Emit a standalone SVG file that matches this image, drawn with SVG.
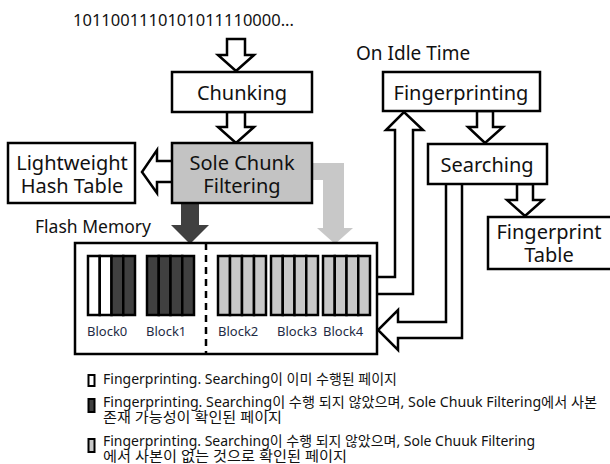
<svg xmlns="http://www.w3.org/2000/svg" width="610" height="464" viewBox="0 0 610 464">
<style>
text{font-family:"Noto Sans","Noto Sans CJK KR",sans-serif;fill:#111}
.box{fill:#fff;stroke:#000;stroke-width:2.5}
.gbox{fill:#c3c3c3;stroke:#000;stroke-width:2.5}
.oa{fill:#fff;stroke:#000;stroke-width:2.5;stroke-linejoin:miter}
.lbl{font-size:20px;text-anchor:middle}
.blk{font-size:13px;fill:#1e2a44}
.leg{font-size:14px}
.cell{stroke:#000;stroke-width:2.5}
.w{fill:#fff}.d{fill:#404040}.g{fill:#c8c8c8}
</style>
<rect width="610" height="464" fill="#fff"/>
<text x="73" y="26" font-size="16.5">1011001110101011110000...</text>
<text x="356" y="60" font-size="19">On Idle Time</text>
<text x="35" y="233" font-size="17.5">Flash Memory</text>

<g id="connectors">
  <path class="oa" d="M227,39 H245 V55 H254 L236,71 L218,55 H227 Z"/>
  <path class="oa" d="M227,112 H245 V127 H254 L236,143 L218,127 H227 Z"/>
  <path class="oa" d="M172,161 H157 V150 L142,172 L157,193 V182 H172"/>
  <path fill="#404040" d="M181,203 H199 V225 H209 L190,244 L171,225 H181 Z"/>
  <path fill="#c8c8c8" d="M312,163 H344 V228 H353 L335,244 L317,228 H323 V180 H312 Z"/>
  <path class="oa" d="M377,277 H395 V130 H386 L404,112 L423,130 H413 V294 H377"/>
  <path class="oa" d="M477,111 H493 V127 H503 L485,143 L468,127 H477 Z"/>
  <path class="oa" d="M517,184 H533 V200 H543 L525,216 L507,200 H517 Z"/>
  <path class="oa" d="M446,184 V322 H398 V310 L378,330 L398,350 V338 H462 V184"/>
</g>

<g id="chunking"><rect class="box" x="172" y="72" width="140" height="40"/><text class="lbl" x="242" y="100">Chunking</text></g>
<g id="sole-chunk-filtering"><rect class="gbox" x="172" y="143" width="140" height="60"/><text class="lbl" x="242" y="170">Sole Chunk</text><text class="lbl" x="242" y="193">Filtering</text></g>
<g id="lightweight-hash-table"><rect class="box" x="8" y="143" width="127" height="60"/><text class="lbl" x="72" y="170">Lightweight</text><text class="lbl" x="72" y="193">Hash Table</text></g>
<g id="fingerprinting"><rect class="box" x="383" y="72" width="157" height="39"/><text class="lbl" x="461" y="100">Fingerprinting</text></g>
<g id="searching"><rect class="box" x="428" y="144" width="119" height="40"/><text class="lbl" x="487" y="172">Searching</text></g>
<g id="fingerprint-table"><rect class="box" x="488" y="217" width="124" height="52"/><text class="lbl" x="549" y="239">Fingerprint</text><text class="lbl" x="549" y="262">Table</text></g>

<g id="flash-memory">
  <rect class="box" x="75" y="243" width="302" height="111"/>
  <line x1="206" y1="243" x2="206" y2="354" stroke="#000" stroke-width="2.5" stroke-dasharray="7,5"/>
  <g id="block0">
    <rect class="cell w" x="88" y="256" width="11.75" height="59"/><rect class="cell w" x="99.75" y="256" width="11.75" height="59"/><rect class="cell d" x="111.5" y="256" width="11.75" height="59"/><rect class="cell d" x="123.25" y="256" width="11.75" height="59"/>
    <text class="blk" x="87" y="336">Block0</text>
  </g>
  <g id="block1">
    <rect class="cell d" x="147" y="256" width="11.75" height="59"/><rect class="cell d" x="158.75" y="256" width="11.75" height="59"/><rect class="cell d" x="170.5" y="256" width="11.75" height="59"/><rect class="cell d" x="182.25" y="256" width="11.75" height="59"/>
    <text class="blk" x="146" y="336">Block1</text>
  </g>
  <g id="block2">
    <rect class="cell g" x="218" y="256" width="12" height="59"/><rect class="cell g" x="230" y="256" width="12" height="59"/><rect class="cell g" x="242" y="256" width="12" height="59"/><rect class="cell g" x="254" y="256" width="12" height="59"/>
    <text class="blk" x="218" y="336">Block2</text>
  </g>
  <g id="block3">
    <rect class="cell g" x="271" y="256" width="11.75" height="59"/><rect class="cell g" x="282.75" y="256" width="11.75" height="59"/><rect class="cell g" x="294.5" y="256" width="11.75" height="59"/><rect class="cell g" x="306.25" y="256" width="11.75" height="59"/>
    <text class="blk" x="277" y="336">Block3</text>
  </g>
  <g id="block4">
    <rect class="cell g" x="323" y="256" width="11.75" height="59"/><rect class="cell g" x="334.75" y="256" width="11.75" height="59"/><rect class="cell g" x="346.5" y="256" width="11.75" height="59"/><rect class="cell g" x="358.25" y="256" width="11.75" height="59"/>
    <text class="blk" x="323" y="336">Block4</text>
  </g>
</g>

<g id="legend">
  <rect x="88.5" y="375" width="6" height="11" fill="#fff" stroke="#000" stroke-width="2"/>
  <text class="leg" x="103" y="384" textLength="294" lengthAdjust="spacingAndGlyphs">Fingerprinting. Searching이 이미 수행된 페이지</text>
  <rect x="88.5" y="399" width="6" height="13" fill="#404040" stroke="#000" stroke-width="2"/>
  <text class="leg" x="103" y="407" textLength="494" lengthAdjust="spacingAndGlyphs">Fingerprinting. Searching이 수행 되지 않았으며, Sole Chuuk Filtering에서 사본</text>
  <text class="leg" x="103" y="422" textLength="179" lengthAdjust="spacingAndGlyphs">존재 가능성이 확인된 페이지</text>
  <rect x="88.5" y="439" width="6" height="13" fill="#c8c8c8" stroke="#000" stroke-width="2"/>
  <text class="leg" x="103" y="446" textLength="432" lengthAdjust="spacingAndGlyphs">Fingerprinting. Searching이 수행 되지 않았으며, Sole Chuuk Filtering</text>
  <text class="leg" x="103" y="461" textLength="244" lengthAdjust="spacingAndGlyphs">에서 사본이 없는 것으로 확인된 페이지</text>
</g>
</svg>
